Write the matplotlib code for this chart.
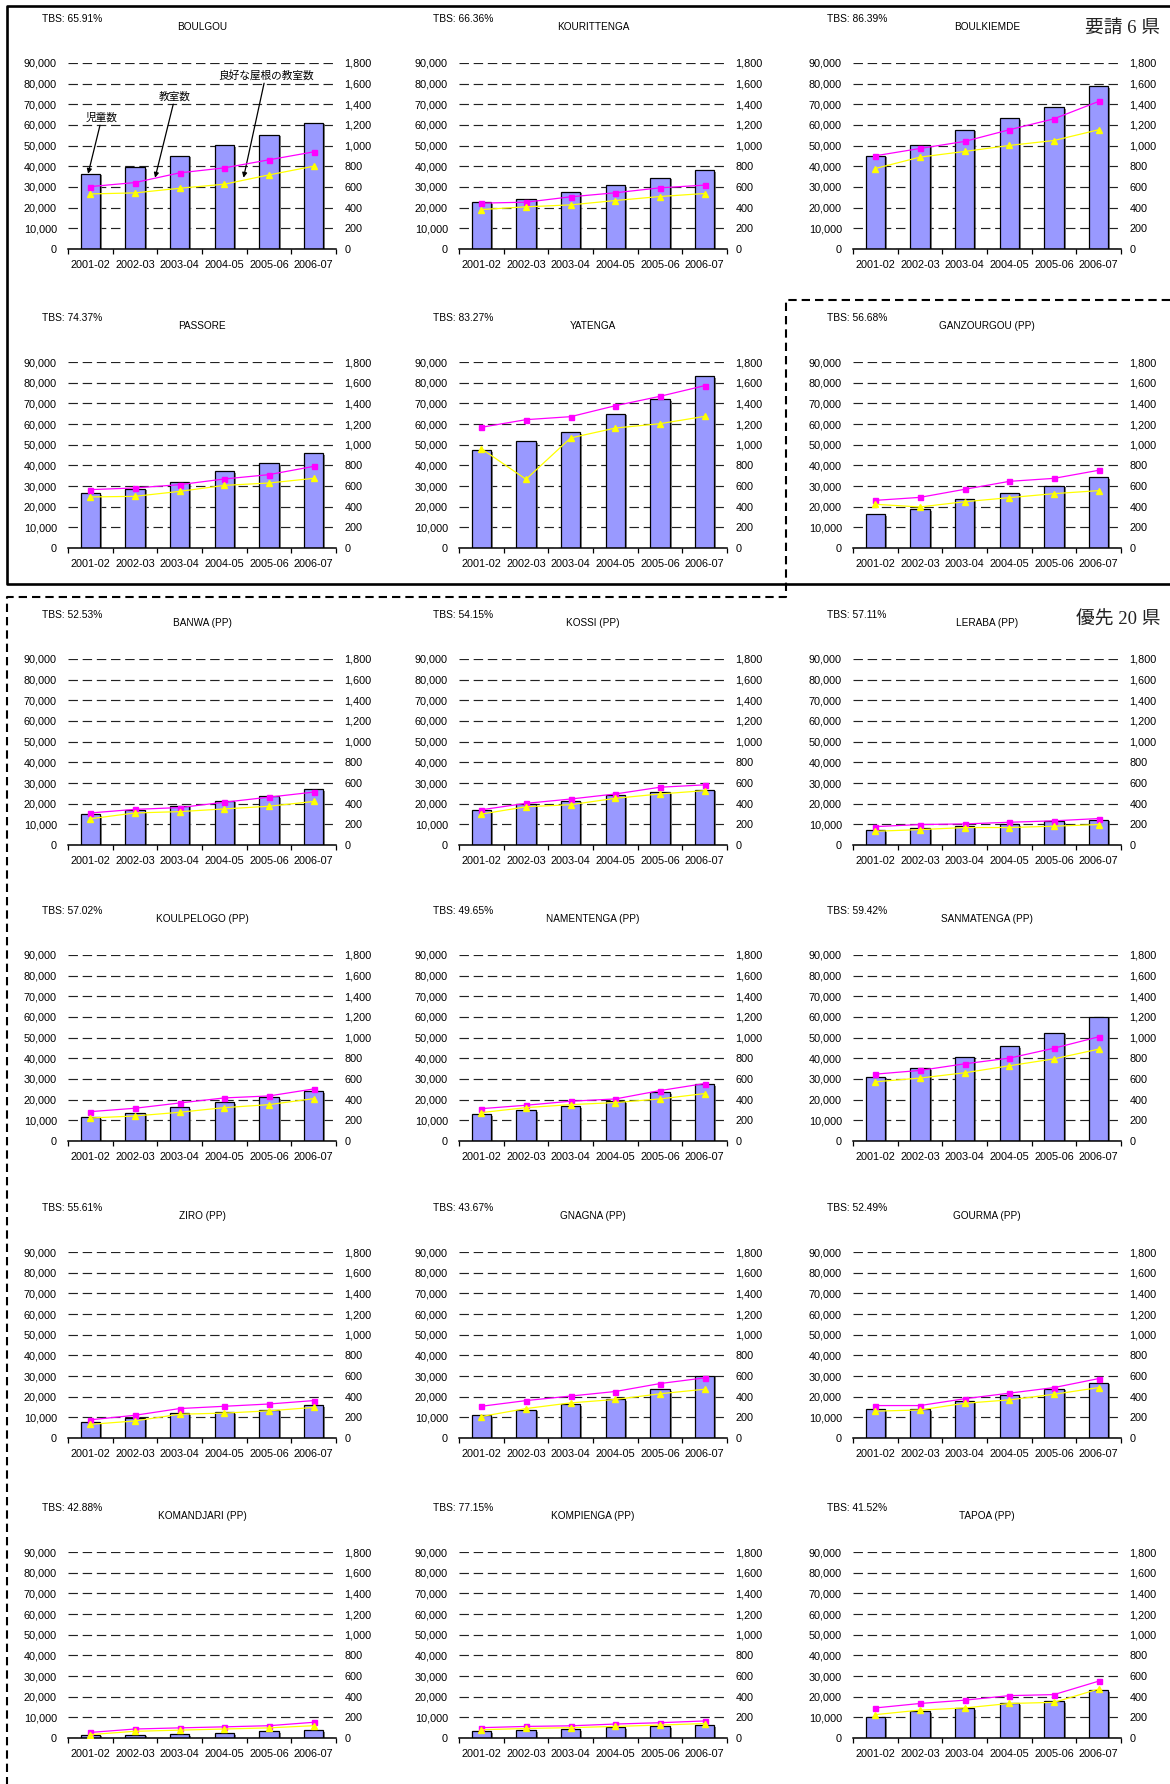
import matplotlib
matplotlib.use("Agg")
import matplotlib.pyplot as plt
import matplotlib.patheffects as pe
from matplotlib.lines import Line2D
from matplotlib.ticker import FuncFormatter
import numpy as np

plt.rcParams['font.family'] = ['Liberation Sans', 'Noto Sans CJK JP']

# 年度
years = ['2001-02', '2002-03', '2003-04', '2004-05', '2005-06', '2006-07']

# 県名と TBS
provinces = ['BOULGOU', 'KOURITTENGA', 'BOULKIEMDE',
             'PASSORE', 'YATENGA', 'GANZOURGOU (PP)',
             'BANWA (PP)', 'KOSSI (PP)', 'LERABA (PP)',
             'KOULPELOGO (PP)', 'NAMENTENGA (PP)', 'SANMATENGA (PP)',
             'ZIRO (PP)', 'GNAGNA (PP)', 'GOURMA (PP)',
             'KOMANDJARI (PP)', 'KOMPIENGA (PP)', 'TAPOA (PP)']
tbs = [65.91, 66.36, 86.39,
       74.37, 83.27, 56.68,
       52.53, 54.15, 57.11,
       57.02, 49.65, 59.42,
       55.61, 43.67, 52.49,
       42.88, 77.15, 41.52]

# 児童数（左軸）
pupils = [
    [36400, 39600, 45100, 50100, 55400, 61100],
    [22700, 24300, 27700, 30900, 34500, 38000],
    [45100, 50100, 57700, 63300, 68500, 78700],
    [26600, 28700, 31900, 37300, 41000, 45800],
    [47400, 51800, 56100, 65000, 71900, 83100],
    [16500, 18900, 23900, 26800, 30200, 34400],
    [15000, 16800, 19100, 21500, 23500, 26900],
    [16900, 19800, 21400, 24200, 25700, 26800],
    [7300, 8400, 9400, 10200, 11400, 12200],
    [11500, 13700, 16300, 18900, 21300, 24100],
    [12900, 14900, 17000, 19400, 23600, 27500],
    [31100, 35100, 40700, 46000, 52500, 60100],
    [7700, 9900, 12000, 12600, 13700, 15900],
    [11000, 13700, 16500, 18700, 23600, 30200],
    [14100, 14100, 17900, 20600, 23900, 26800],
    [1600, 1600, 1800, 2200, 3300, 3800],
    [3200, 3900, 4200, 5100, 5600, 6300],
    [10200, 12900, 14500, 16700, 17800, 23200],
]

# 教室数（右軸）
classrooms = [
    [604, 643, 737, 785, 863, 940],
    [444, 453, 505, 544, 592, 618],
    [902, 973, 1041, 1154, 1260, 1428],
    [565, 581, 613, 668, 710, 790],
    [1168, 1242, 1271, 1377, 1468, 1571],
    [461, 490, 568, 645, 674, 752],
    [310, 345, 362, 414, 463, 512],
    [341, 403, 445, 494, 559, 582],
    [178, 198, 204, 220, 234, 256],
    [284, 317, 368, 417, 436, 504],
    [313, 346, 385, 407, 488, 556],
    [647, 683, 747, 802, 898, 1008],
    [176, 220, 285, 307, 329, 362],
    [307, 362, 406, 450, 527, 582],
    [314, 314, 380, 434, 488, 575],
    [54, 87, 98, 108, 119, 152],
    [100, 112, 118, 135, 148, 165],
    [291, 334, 366, 410, 420, 550],
]

# 良好な屋根の教室数（右軸）
good_roof = [
    [533, 543, 588, 627, 717, 801],
    [382, 408, 427, 469, 508, 537],
    [779, 889, 944, 1002, 1050, 1154],
    [494, 500, 548, 606, 629, 674],
    [961, 665, 1065, 1161, 1203, 1274],
    [423, 397, 448, 487, 526, 555],
    [254, 310, 323, 349, 375, 421],
    [299, 370, 390, 452, 494, 526],
    [133, 149, 169, 169, 182, 198],
    [223, 242, 278, 323, 352, 410],
    [275, 323, 352, 372, 407, 459],
    [573, 609, 660, 728, 795, 889],
    [132, 165, 230, 241, 263, 296],
    [208, 285, 340, 373, 428, 472],
    [260, 271, 336, 369, 423, 488],
    [33, 65, 76, 87, 98, 119],
    [80, 92, 100, 112, 125, 140],
    [226, 270, 291, 334, 345, 474],
]

W, H = 1170, 1784
fig = plt.figure(figsize=(W / 100, H / 100), dpi=100)

col_left = [68, 459, 853]
row_top = [63, 362, 659, 955, 1252, 1552]
ax_w, ax_h = 268, 186

comma = FuncFormatter(lambda v, p: f'{int(v):,}')
x = np.arange(len(years))

for i, name in enumerate(provinces):
    r, c = divmod(i, 3)
    left, top = col_left[c], row_top[r]
    ax = fig.add_axes([left / W, 1 - (top + ax_h) / H, ax_w / W, ax_h / H])
    ax.set_axisbelow(True)

    bars = ax.bar(x, pupils[i], width=0.43, color='#9999ff',
                  edgecolor='black', linewidth=0.9, zorder=2)
    for b in bars:
        b.set_path_effects([pe.SimplePatchShadow(offset=(1.5, -1.2), shadow_rgbFace='#666666', alpha=0.8),
                            pe.Normal()])

    ax.set_xlim(-0.5, 5.5)
    ax.set_ylim(0, 90000)
    ax.set_yticks(np.arange(0, 90001, 10000))
    ax.yaxis.set_major_formatter(comma)
    ax.grid(axis='y', color='#222222', linestyle=(0, (8, 4)), linewidth=0.85)
    ax.set_xticks(x)
    ax.set_xticklabels(years)
    ax.set_xticks(np.arange(-0.5, 6, 1), minor=True)
    ax.tick_params(axis='x', which='major', length=0, pad=8, labelsize=7.8)
    ax.tick_params(axis='x', which='minor', length=3.5, width=0.9, direction='out')
    ax.tick_params(axis='y', length=0, pad=8, labelsize=7.8)
    for s in ['top', 'left', 'right']:
        ax.spines[s].set_visible(False)
    ax.spines['bottom'].set_linewidth(1.1)

    ax2 = ax.twinx()
    ax2.plot(x, classrooms[i], color='#ff00ff', marker='s', markersize=3.6, linewidth=0.9)
    ax2.plot(x, good_roof[i], color='#ffff00', marker='^', markersize=4.4, linewidth=0.9)
    ax2.set_ylim(0, 1800)
    ax2.set_yticks(np.arange(0, 1801, 200))
    ax2.yaxis.set_major_formatter(comma)
    ax2.tick_params(axis='y', length=0, pad=6, labelsize=7.8)
    for s in ax2.spines.values():
        s.set_visible(False)

    ax.text(-26 / ax_w, 1 + 44 / ax_h, f'TBS: {tbs[i]:.2f}%', transform=ax.transAxes,
            fontsize=7.4, ha='left', va='center')
    ax.text(0.5, 1 + 36 / ax_h, name, transform=ax.transAxes,
            fontsize=7.2, ha='center', va='center')

    if i == 0:
        arrow = dict(arrowstyle='-|>', color='black', lw=0.9, mutation_scale=7, shrinkA=0, shrinkB=0)
        ax.annotate('児童数', xy=(-0.05, 36400), xytext=(0.26, 63700),
                    fontsize=7.7, ha='center', va='center', arrowprops=arrow, zorder=5)
        ax.annotate('教室数', xy=(1.45, 34500), xytext=(1.9, 73900),
                    fontsize=7.7, ha='center', va='center', arrowprops=arrow, zorder=5)
        ax.annotate('良好な屋根の教室数', xy=(3.43, 34500), xytext=(3.93, 84200),
                    fontsize=7.7, ha='center', va='center', arrowprops=arrow, zorder=5)


def fig_line(xs, ys, **kw):
    fig.add_artist(Line2D([v / W for v in xs], [1 - v / H for v in ys],
                          transform=fig.transFigure, color='black', **kw))


# 要請 6 県の枠（実線）
fig_line([1170, 7, 7, 1170], [6, 6, 584, 584], linewidth=1.9)
# 優先 20 県の枠（破線）
fig_line([1170, 786, 786, 7, 7], [300, 300, 597, 597, 1784],
         linewidth=1.5, linestyle=(0, (4, 2.4)))

big = ['Liberation Serif', 'Noto Sans CJK JP']
fig.text(1160 / W, 1 - 28 / H, '要請 6 県', family=big, fontsize=13.5,
         ha='right', va='center', color='#222222')
fig.text(1160 / W, 1 - 620 / H, '優先 20 県', family=big, fontsize=13.5,
         ha='right', va='center', color='#222222')

fig.savefig('out.png', dpi=100)
